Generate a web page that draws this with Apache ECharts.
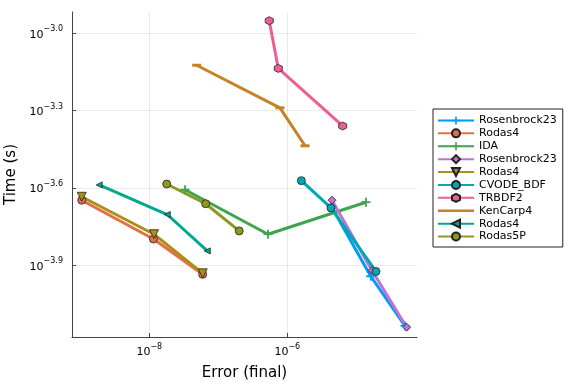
<!DOCTYPE html>
<html><head><meta charset="utf-8">
<script src="https://cdn.jsdelivr.net/npm/echarts@6/dist/echarts.min.js"></script>
<style>html,body{margin:0;padding:0;background:#fff}#c{width:576px;height:384px}</style>
</head><body><div id="c"></div>
<script>
// Data (error, time) per series
const names = ['Rosenbrock23','Rodas4','IDA','Rosenbrock23','Rodas4','CVODE_BDF','TRBDF2','KenCarp4','Rodas4','Rodas5P'];
const colors = ['#009AFA','#E36F47','#3EA44E','#C371D2','#AC8E18','#00A9AD','#ED5E93','#C68225','#00A98D','#8E971E'];
const errRosenbrock23a = [4.30e-6, 1.62e-5, 5.08e-5];
const timeRosenbrock23a = [2.14e-4, 1.14e-4, 7.31e-5];
const errRodas4a = [1.05e-9, 1.15e-8, 5.94e-8];
const timeRodas4a = [2.25e-4, 1.59e-4, 1.16e-4];
const errIDA = [3.3e-8, 5.25e-7, 1.38e-5];
const timeIDA = [2.47e-4, 1.66e-4, 2.21e-4];
const errRosenbrock23b = [4.45e-6, 1.69e-5, 5.37e-5];
const timeRosenbrock23b = [2.25e-4, 1.20e-4, 7.23e-5];
const errRodas4b = [1.05e-9, 1.17e-8, 5.94e-8];
const timeRodas4b = [2.32e-4, 1.66e-4, 1.17e-4];
const errCVODE = [1.60e-6, 4.30e-6, 1.93e-5];
const timeCVODE = [2.68e-4, 2.10e-4, 1.19e-4];
const errTRBDF2 = [5.48e-7, 7.41e-7, 6.35e-6];
const timeTRBDF2 = [1.12e-3, 7.31e-4, 4.37e-4];
const errKenCarp4 = [4.86e-8, 7.83e-7, 1.81e-6];
const timeKenCarp4 = [7.52e-4, 5.14e-4, 3.66e-4];
const errRodas4c = [1.88e-9, 1.82e-8, 6.93e-8];
const timeRodas4c = [2.58e-4, 1.98e-4, 1.43e-4];
const errRodas5P = [1.79e-8, 6.56e-8, 2.01e-7];
const timeRodas5P = [2.60e-4, 2.18e-4, 1.71e-4];
const xTicks = [1e-8, 1e-6];
const yTicks = [Math.pow(10,-3.9), Math.pow(10,-3.6), Math.pow(10,-3.3), Math.pow(10,-3.0)];

const errs = [errRosenbrock23a, errRodas4a, errIDA, errRosenbrock23b, errRodas4b, errCVODE, errTRBDF2, errKenCarp4, errRodas4c, errRodas5P];
const times = [timeRosenbrock23a, timeRodas4a, timeIDA, timeRosenbrock23b, timeRodas4b, timeCVODE, timeTRBDF2, timeKenCarp4, timeRodas4c, timeRodas5P];

const CROSS = 'path://M4,0L6,0L6,4L10,4L10,6L6,6L6,10L4,10L4,6L0,6L0,4L4,4Z';
const HEX = 'path://M5,0L9.33,2.5L9.33,7.5L5,10L0.67,7.5L0.67,2.5Z';
const HLINE = 'path://M0,0L10,0L10,3L0,3Z';
const sym = [
  {s: CROSS, size: 9, rot: 0, b: 0},
  {s: 'circle', size: 8, rot: 0, b: 0.8},
  {s: CROSS, size: 9, rot: 0, b: 0},
  {s: 'diamond', size: 8, rot: 0, b: 0.8},
  {s: 'triangle', size: 9, rot: 180, b: 0.8},
  {s: 'circle', size: 8, rot: 0, b: 0.8},
  {s: HEX, size: 8, rot: 0, b: 0.8},
  {s: HLINE, size: [9, 3], rot: 0, b: 0},
  {s: 'triangle', size: 6, rot: 90, b: 0.8},
  {s: 'circle', size: 8, rot: 0, b: 0.8}
];

// unique legend keys (zero-width spaces keep rendered text identical)
const seen = {};
const keys = names.map(n => { seen[n] = (seen[n] || 0) + 1; return n + '\u200B'.repeat(seen[n] - 1); });

const series = keys.map((k, i) => ({
  name: k, type: 'line',
  data: errs[i].map((e, j) => [e, times[i][j]]),
  symbol: sym[i].s, symbolSize: sym[i].size, symbolRotate: sym[i].rot,
  showAllSymbol: true,
  lineStyle: {color: colors[i], width: 3},
  itemStyle: {color: colors[i], borderColor: '#222', borderWidth: sym[i].b},
  emphasis: {disabled: true},
  animation: false, clip: true
}));

const legendData = keys.map((k, i) => i === 7
  ? {name: k, icon: 'path://M0,0L36,0L36,0.01L0,0.01Z M0,3.8L36,3.8L36,6.2L0,6.2Z M0,9.99L36,9.99L36,10L0,10Z'}
  : {name: k});

const F = 'DejaVu Sans';
const sup = {
  b: {fontSize: 11, fontFamily: F, color: '#000', verticalAlign: 'bottom', lineHeight: 14},
  s: {fontSize: 8, fontFamily: F, color: '#000', verticalAlign: 'bottom', lineHeight: 14, padding: [0, 0, 7, 0]}
};
function fmtExp(v, dec) {
  const e = Math.log10(v);
  return '{b|10}{s|\u2212' + Math.abs(e).toFixed(dec) + '}';
}

const chart = echarts.init(document.getElementById('c'), null, {renderer: 'canvas'});
chart.setOption({
  animation: false,
  backgroundColor: '#fff',
  grid: {left: 72, top: 12, right: 159, bottom: 47, containLabel: false, outerBoundsMode: 'none'},
  xAxis: {
    type: 'log', logBase: 10,
    min: Math.pow(10, -9.12), max: Math.pow(10, -4.12),
    name: 'Error (final)', nameLocation: 'middle', nameGap: 29,
    nameTextStyle: {fontSize: 15, fontFamily: F, color: '#000'},
    axisLine: {show: true, onZero: false, lineStyle: {color: '#444', width: 1}},
    axisTick: {show: true, inside: true, length: 4, customValues: xTicks, lineStyle: {color: '#444'}},
    axisLabel: {customValues: xTicks, margin: 7, formatter: v => fmtExp(v, 0), rich: sup},
    splitLine: {show: true, lineStyle: {color: 'rgba(0,0,0,0.08)', width: 1}},
    minorTick: {show: false}, minorSplitLine: {show: false}
  },
  yAxis: {
    type: 'log', logBase: 10,
    min: Math.pow(10, -4.179), max: Math.pow(10, -2.917),
    name: 'Time (s)', nameLocation: 'middle', nameGap: 52,
    nameTextStyle: {fontSize: 15, fontFamily: F, color: '#000'},
    axisLine: {show: true, onZero: false, lineStyle: {color: '#444', width: 1}},
    axisTick: {show: true, inside: true, length: 4, customValues: yTicks, lineStyle: {color: '#444'}},
    axisLabel: {customValues: yTicks, margin: 9, formatter: v => fmtExp(v, 1), rich: sup},
    splitLine: {show: true, lineStyle: {color: 'rgba(0,0,0,0.08)', width: 1}},
    minorTick: {show: false}, minorSplitLine: {show: false}
  },
  legend: {
    orient: 'vertical', left: 433, top: 109,
    data: legendData,
    itemWidth: 36, itemHeight: 10, itemGap: 0,
    padding: [5, 6, 4, 4],
    borderColor: '#222', borderWidth: 1, backgroundColor: '#fff',
    textStyle: {fontSize: 11, fontFamily: F, color: '#000', lineHeight: 12.9},
    selectedMode: false
  },
  series: series
});
</script></body></html>
